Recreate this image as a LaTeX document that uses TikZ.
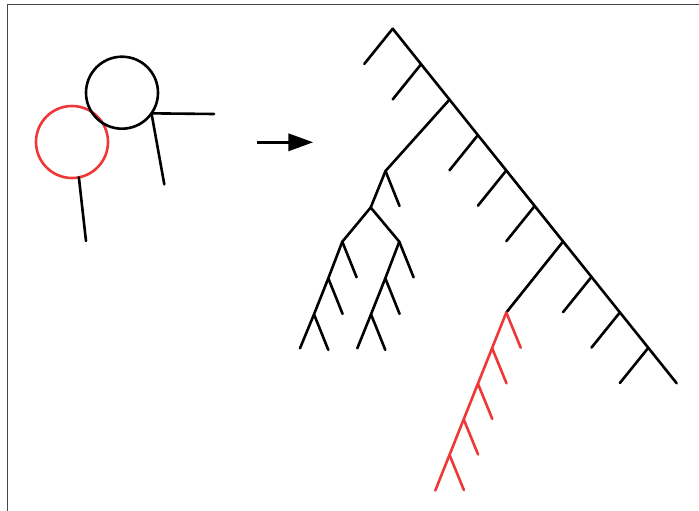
\documentclass[tikz,border=0pt]{standalone}
\usetikzlibrary{arrows.meta}
\definecolor{redline}{RGB}{240,55,55}
\definecolor{framegray}{RGB}{70,70,70}
\begin{document}
\begin{tikzpicture}[x=1pt,y=-1pt,
  edge/.style={line width=2.6pt,line cap=round,black},
  redge/.style={line width=2.6pt,line cap=round,redline},
  ring/.style={circle,line width=2.6pt,minimum size=72pt,inner sep=0pt,outer sep=0pt}]
\useasboundingbox (0,0) rectangle (699,511);
\draw[framegray,line width=1pt] (7.7,511) -- (7.7,4.5) -- (699,4.5);

% left: two circles with sticks
\node[ring,draw=redline] (rc) at (72,142) {};
\node[ring,draw=black] (bc) at (122,92.7) {};
\coordinate (bh) at (214,114);
\coordinate (bd) at (164.3,184.3);
\coordinate (rd) at (86,241);
\draw[edge] (bc.-35.6) -- (bh);
\draw[edge] (bc.-35.6) -- (bd);
\draw[edge] (rc.-79.4) -- (rd);

% arrow
\coordinate (as) at (257,142.3);
\coordinate (ae) at (313.3,142.3);
\draw[line width=3.6pt,-{Triangle[length=25pt,width=17pt]}] (as) -- (ae);

% main diagonal
\coordinate (a0) at (392.7,28.7);
\coordinate (a1) at (421.1,64.2);
\coordinate (a2) at (449.5,99.6);
\coordinate (a3) at (477.9,135.1);
\coordinate (a4) at (506.3,170.5);
\coordinate (a5) at (534.7,206.0);
\coordinate (a6) at (563.1,241.5);
\coordinate (a7) at (591.5,276.9);
\coordinate (a8) at (619.9,312.4);
\coordinate (a9) at (648.3,347.8);
\coordinate (a10) at (676.7,383.3);
\draw[edge] (a0) -- (a1) -- (a2) -- (a3) -- (a4) -- (a5) -- (a6) -- (a7) -- (a8) -- (a9) -- (a10);
\foreach \k in {0,1,3,4,5,7,8,9}{
  \coordinate (b\k) at ([shift={(-28.4,35.2)}]a\k);
  \draw[edge] (a\k) -- (b\k);
}

% left subtree
\coordinate (l) at (385.5,171);
\coordinate (lr) at (399.5,206);
\coordinate (m) at (370.7,207.5);
\coordinate (p0) at (342.3,241.7);
\coordinate (p1) at (328.3,278.3);
\coordinate (p2) at (314,314.3);
\coordinate (p3) at (300,348.3);
\coordinate (q0) at (399.3,241.7);
\coordinate (q1) at (385.3,278.3);
\coordinate (q2) at (371,314.3);
\coordinate (q3) at (357.3,348.3);
\draw[edge] (a2) -- (l) -- (m);
\draw[edge] (l) -- (lr);
\draw[edge] (p0) -- (m) -- (q0);
\draw[edge] (p0) -- (p1) -- (p2) -- (p3);
\draw[edge] (q0) -- (q1) -- (q2) -- (q3);
\foreach \k in {0,1,2}{
  \coordinate (pr\k) at ([shift={(14.3,35.6)}]p\k);
  \coordinate (qr\k) at ([shift={(14.3,35.6)}]q\k);
  \draw[edge] (p\k) -- (pr\k);
  \draw[edge] (q\k) -- (qr\k);
}

% red subtree
\coordinate (r0) at (506.3,312.5);
\coordinate (r1) at (492.1,348.1);
\coordinate (r2) at (477.9,383.7);
\coordinate (r3) at (463.7,419.3);
\coordinate (r4) at (449.5,454.9);
\coordinate (r5) at (435.3,490.5);
\draw[edge] (a6) -- (r0);
\draw[redge] (r0) -- (r1) -- (r2) -- (r3) -- (r4) -- (r5);
\foreach \k in {0,1,2,3,4}{
  \coordinate (rr\k) at ([shift={(14.4,35.2)}]r\k);
  \draw[redge] (r\k) -- (rr\k);
}
\end{tikzpicture}
\end{document}
